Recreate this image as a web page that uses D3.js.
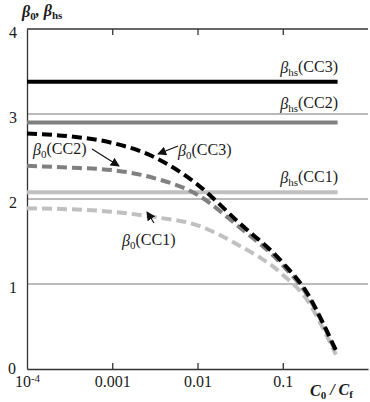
<!DOCTYPE html>
<html>
<head>
<meta charset="utf-8">
<script src="https://cdn.jsdelivr.net/npm/d3@7"></script>
<style>
  body { margin: 0; background: #fff; }
  svg text { font-family: 'Liberation Serif', 'Times New Roman', serif; fill: #1a1a1a; }
</style>
</head>
<body>
<div id="chart"></div>
<script>
// ratio C0/Cf where the curves are sampled
var ratios = [1e-4, 3e-4, 1e-3, 3e-3, 1e-2, 3e-2, 0.1, 0.2, 0.3, 0.42];
var beta0CC3 = [2.77, 2.74, 2.66, 2.50, 2.17, 1.73, 1.25, 0.87, 0.53, 0.22];
var beta0CC2 = [2.39, 2.37, 2.34, 2.25, 2.05, 1.68, 1.22, 0.85, 0.52, 0.20];
var beta0CC1 = [1.89, 1.88, 1.85, 1.79, 1.69, 1.46, 1.11, 0.79, 0.47, 0.17];

// horizontal βhs levels
var hsNames = ["CC3", "CC2", "CC1"];
var hsValues = [3.38, 2.90, 2.08];
var hsRange = [1e-4, 0.44];

var xTicks = [1e-4, 0.001, 0.01, 0.1];
var xTickLabels = ["10", "0.001", "0.01", "0.1"];
var yTicks = [0, 1, 2, 3, 4];
var gridValues = [1, 2, 3];

var width = 370, height = 402;
var colors = { CC3: "#000", CC2: "#808080", CC1: "#c0c0c0" };
var serif = "'Liberation Serif', 'Times New Roman', serif";

var svg = d3.select("#chart").append("svg")
    .attr("width", width)
    .attr("height", height);

var x = d3.scaleLog().domain([1e-4, 1]).range([27, 368]);
var y = d3.scaleLinear().domain([0, 4]).range([369, 29]);

// grid lines
svg.append("g")
    .selectAll("line")
    .data(gridValues)
    .enter()
    .append("line")
        .attr("x1", x(1e-4))
        .attr("x2", x(1))
        .attr("y1", d => y(d))
        .attr("y2", d => y(d))
        .style("stroke", "#777")
        .style("stroke-width", 1);

// frame: top line
svg.append("line")
    .attr("x1", x(1e-4)).attr("x2", x(1))
    .attr("y1", y(4)).attr("y2", y(4))
    .style("stroke", "#333").style("stroke-width", 1.3);

// top ticks
svg.append("g")
    .attr("transform", "translate(0," + y(4) + ")")
    .call(d3.axisTop(x).tickValues([0.001, 0.01, 0.1]).tickSize(-6).tickFormat(""))
    .call(g => g.select(".domain").remove())
    .selectAll("line").style("stroke", "#333").style("stroke-width", 1.3);

// bottom axis
var xAxis = svg.append("g")
    .attr("transform", "translate(0," + y(0) + ")")
    .call(d3.axisBottom(x).tickValues(xTicks).tickSizeInner(-6).tickSizeOuter(0).tickPadding(7)
        .tickFormat((d, i) => xTickLabels[i]));
xAxis.attr("font-family", serif);
xAxis.select(".domain").style("stroke", "#333").style("stroke-width", 1.3);
xAxis.selectAll(".tick line").style("stroke", "#333").style("stroke-width", 1.3)
    .filter(d => d === 1e-4).remove();
xAxis.selectAll("text")
    .style("font-size", "16px")
    .style("fill", "#1a1a1a");
xAxis.selectAll(".tick text").filter(d => d === 1e-4)
    .append("tspan")
        .attr("dy", "-0.45em")
        .style("font-size", "11px")
        .text("-4");

// left axis
var yAxis = svg.append("g")
    .attr("transform", "translate(" + x(1e-4) + ",0)")
    .call(d3.axisLeft(y).tickValues(yTicks).tickSize(0).tickPadding(10).tickFormat(d3.format("d")));
yAxis.attr("font-family", serif);
yAxis.select(".domain").style("stroke", "#333").style("stroke-width", 1.3);
yAxis.selectAll("text")
    .attr("dy", "0.5em")
    .style("font-size", "16px")
    .style("fill", "#1a1a1a");
yAxis.selectAll(".tick text").filter(d => d === 0).attr("dy", "0.3em").attr("x", -11);

// βhs levels
svg.append("g")
    .selectAll("line")
    .data(hsValues)
    .enter()
    .append("line")
        .attr("x1", x(hsRange[0]))
        .attr("x2", x(hsRange[1]))
        .attr("y1", d => y(d))
        .attr("y2", d => y(d))
        .style("stroke", (d, i) => colors[hsNames[i]])
        .style("stroke-width", 4);

// β0 curves
var curves = [
    { name: "CC1", values: beta0CC1 },
    { name: "CC2", values: beta0CC2 },
    { name: "CC3", values: beta0CC3 }
];
var line = d3.line()
    .x((d, i) => x(ratios[i]))
    .y(d => y(d))
    .curve(d3.curveMonotoneX);

svg.append("g")
    .selectAll("path")
    .data(curves)
    .enter()
    .append("path")
        .attr("d", d => line(d.values))
        .style("fill", "none")
        .style("stroke", d => colors[d.name])
        .style("stroke-width", 4)
        .style("stroke-dasharray", "10,5");

// arrowhead marker
svg.append("defs").append("marker")
    .attr("id", "arrow")
    .attr("viewBox", "0 0 10 10")
    .attr("refX", 9).attr("refY", 5)
    .attr("markerWidth", 9).attr("markerHeight", 9)
    .attr("markerUnits", "userSpaceOnUse")
    .attr("orient", "auto")
    .append("path")
        .attr("d", "M0,0 L10,5 L0,10 z")
        .style("fill", "#111");

// labels
function betaLabel(px, py, sub, name, anchor) {
    var t = svg.append("text")
        .attr("x", px).attr("y", py)
        .attr("font-family", serif)
        .attr("text-anchor", anchor || "start")
        .style("font-size", "16px");
    t.append("tspan").style("font-style", "italic").text("β");
    t.append("tspan").attr("dy", "0.3em").style("font-size", "11px").text(sub);
    t.append("tspan").attr("dy", "-0.3em").text("(" + name + ")");
}

betaLabel(338, 73, "hs", "CC3", "end");
betaLabel(338, 109, "hs", "CC2", "end");
betaLabel(338, 183, "hs", "CC1", "end");
betaLabel(178, 156, "0", "CC3");
betaLabel(33, 155, "0", "CC2");
betaLabel(122, 246, "0", "CC1");

// arrows
var arrows = [
    [178, 146, 158, 154],
    [92, 149, 119, 166],
    [154, 223, 147, 212]
];
svg.append("g")
    .selectAll("line")
    .data(arrows)
    .enter()
    .append("line")
        .attr("x1", d => d[0]).attr("y1", d => d[1])
        .attr("x2", d => d[2]).attr("y2", d => d[3])
        .style("stroke", "#111")
        .style("stroke-width", 1.2)
        .attr("marker-end", "url(#arrow)");

// axis titles (subscripts upright, like the reference)
var yt = svg.append("text")
    .attr("x", 22).attr("y", 17)
    .attr("font-family", serif)
    .style("font-size", "16px").style("font-weight", "bold").style("font-style", "italic");
yt.append("tspan").text("β");
yt.append("tspan").attr("dy", "0.3em").style("font-size", "11px").style("font-style", "normal").text("0");
yt.append("tspan").attr("dy", "-0.3em").text(", β");
yt.append("tspan").attr("dy", "0.3em").style("font-size", "11px").style("font-style", "normal").text("hs");

var xt = svg.append("text")
    .attr("x", 310).attr("y", 396)
    .attr("font-family", serif)
    .style("font-size", "16px").style("font-weight", "bold").style("font-style", "italic");
xt.append("tspan").text("C");
xt.append("tspan").attr("dy", "0.3em").style("font-size", "11px").style("font-style", "normal").text("0");
xt.append("tspan").attr("dy", "-0.3em").text(" / C");
xt.append("tspan").attr("dy", "0.3em").style("font-size", "11px").style("font-style", "normal").text("f");
</script>
</body>
</html>
